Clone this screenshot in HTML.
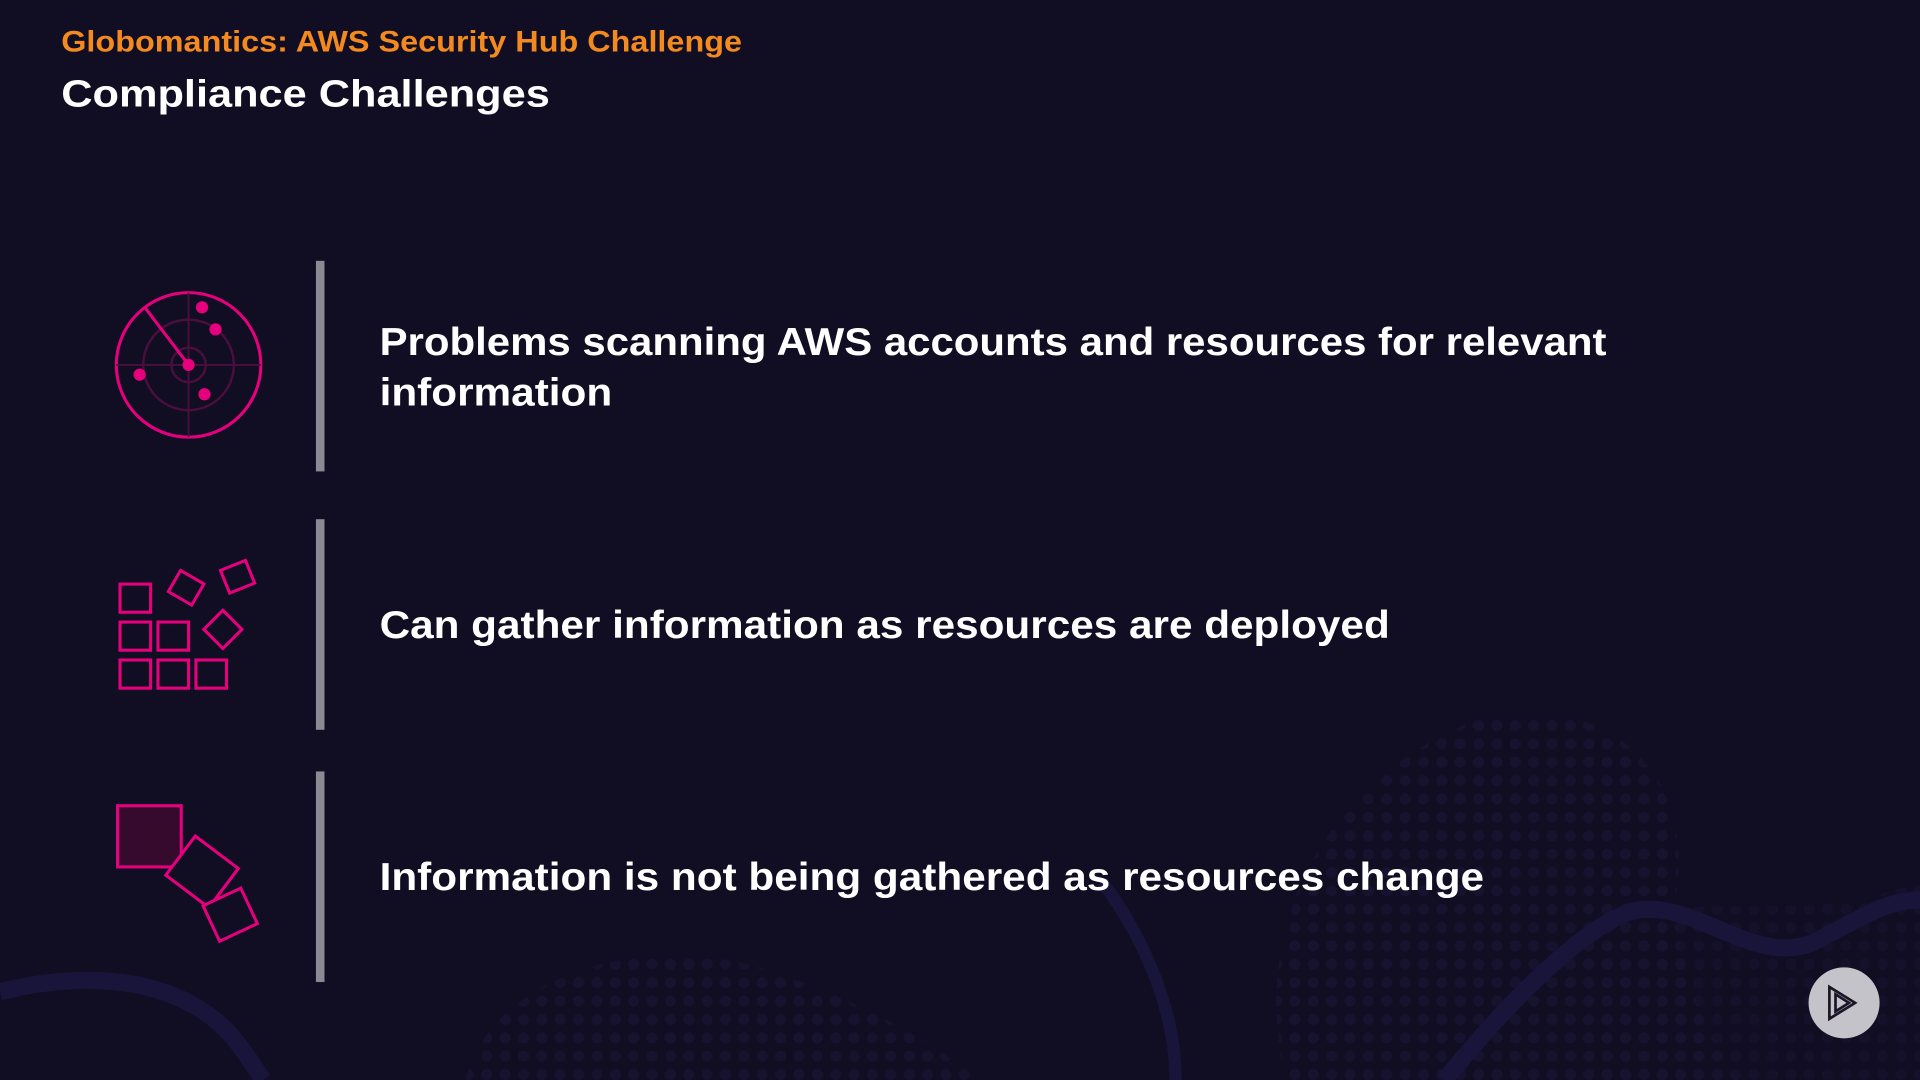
<!DOCTYPE html>
<html><head><meta charset="utf-8"><style>
html,body{margin:0;padding:0;background:#110d22;overflow:hidden}
svg{display:block}
text{font-family:"Liberation Sans",sans-serif;font-weight:bold}
</style></head><body>
<svg width="1920" height="1080" viewBox="0 0 1568 882" xmlns="http://www.w3.org/2000/svg">
<defs>
<pattern id="dots" width="15" height="15" patternUnits="userSpaceOnUse">
<circle cx="7.5" cy="7.5" r="4.5" fill="#17132f"/>
</pattern>
</defs>
<rect width="1568" height="882" fill="#110d22"/>
<path d="M1050 882 C1020 760 1080 640 1200 590 C1300 560 1380 620 1370 720 C1360 800 1420 882 1420 882 Z" fill="url(#dots)"/>
<path d="M380 882 C400 800 520 760 620 790 C700 815 760 850 800 882 Z" fill="url(#dots)"/>
<path d="M1200 882 L1300 760 C1380 720 1460 760 1568 720 L1568 882 Z" fill="url(#dots)" opacity="0.7"/>
<path d="M0 810 C80 790 160 800 200 860 L215 882" stroke="#19153a" stroke-width="14" fill="none"/>
<path d="M1180 882 C1230 820 1290 760 1330 745 C1380 730 1430 790 1480 770 C1520 750 1540 735 1568 735" stroke="#19153a" stroke-width="14" fill="none"/>
<path d="M960 882 C960 820 930 760 900 720" stroke="#19153a" stroke-width="10" fill="none"/>

<text x="50" y="42" font-size="24" fill="#f28a1f" textLength="556" lengthAdjust="spacingAndGlyphs">Globomantics: AWS Security Hub Challenge</text>
<text x="50" y="87" font-size="31" fill="#ffffff" textLength="399" lengthAdjust="spacingAndGlyphs">Compliance Challenges</text>

<rect x="258" y="213" width="7" height="172" fill="#8a8a92"/>
<rect x="258" y="424" width="7" height="172" fill="#8a8a92"/>
<rect x="258" y="630" width="7" height="172" fill="#8a8a92"/>

<text x="310" y="290" font-size="32" fill="#ffffff" textLength="1002" lengthAdjust="spacingAndGlyphs">Problems scanning AWS accounts and resources for relevant</text>
<text x="310" y="331" font-size="32" fill="#ffffff" textLength="190" lengthAdjust="spacingAndGlyphs">information</text>
<text x="310" y="521" font-size="32" fill="#ffffff" textLength="825" lengthAdjust="spacingAndGlyphs">Can gather information as resources are deployed</text>
<text x="310" y="727" font-size="32" fill="#ffffff" textLength="902" lengthAdjust="spacingAndGlyphs">Information is not being gathered as resources change</text>

<g stroke="#e6007e" fill="none">
<circle cx="154" cy="298" r="59" stroke-width="2.5"/>
<circle cx="154" cy="298" r="37" stroke="#4a0f3e" stroke-width="2"/>
<circle cx="154" cy="298" r="14" stroke="#4a0f3e" stroke-width="2"/>
<line x1="95" y1="298" x2="213" y2="298" stroke="#4a0f3e" stroke-width="1.5"/>
<line x1="154" y1="239" x2="154" y2="357" stroke="#4a0f3e" stroke-width="1.5"/>
<line x1="119" y1="252" x2="154" y2="298" stroke-width="2.5"/>
</g>
<g fill="#e6007e">
<circle cx="154" cy="298" r="5"/>
<circle cx="165" cy="251" r="5"/>
<circle cx="176" cy="269" r="5"/>
<circle cx="114" cy="306" r="5"/>
<circle cx="167" cy="322" r="5"/>
</g>

<g stroke="#e6007e" stroke-width="2.5" fill="none">
<rect x="98" y="477" width="25" height="23"/>
<rect x="98" y="508" width="25" height="23"/>
<rect x="129" y="508" width="25" height="23"/>
<rect x="98" y="539" width="25" height="23"/>
<rect x="129" y="539" width="25" height="23"/>
<rect x="160" y="539" width="25" height="23"/>
<rect x="-11" y="-10" width="22" height="20" transform="translate(152 480) rotate(30)"/>
<rect x="-11" y="-10" width="22" height="20" transform="translate(194 471) rotate(-22)"/>
<rect x="-11" y="-11" width="22" height="22" transform="translate(182 514) rotate(45)"/>
</g>

<g stroke="#e6007e" stroke-width="2.5">
<rect x="96" y="658" width="52" height="50" fill="#350a2c"/>
<rect x="-22" y="-20" width="44" height="40" fill="#110d22" transform="translate(165 712) rotate(37)"/>
<rect x="-17" y="-16" width="34" height="32" fill="#110d22" transform="translate(188 747) rotate(-25)"/>
</g>

<circle cx="1506" cy="819" r="29" fill="#c4c3c9"/>
<g stroke="#1a1626" stroke-width="2.2" fill="none">
<path d="M1494 806 L1494 832 L1515 819 Z"/>
<path d="M1499 812 L1499 826 L1510 819 Z"/>
</g>
</svg>
</body></html>
